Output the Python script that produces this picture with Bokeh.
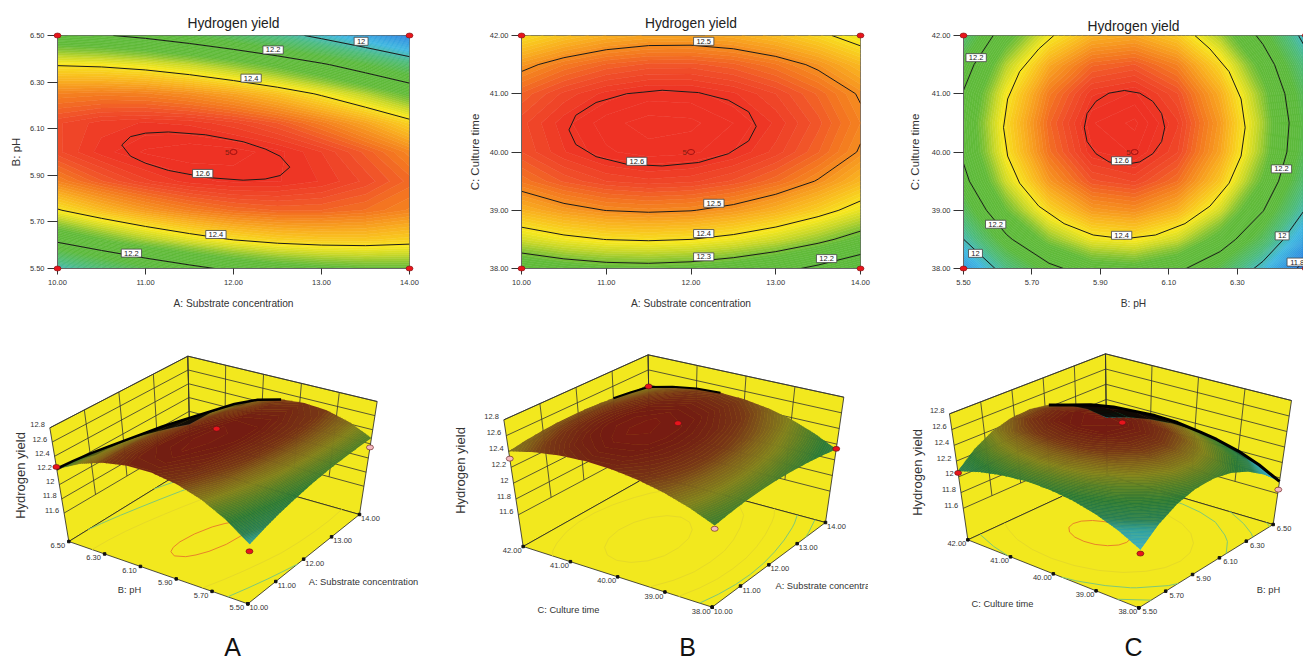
import numpy as np
from bokeh.core.properties import value
from bokeh.embed import file_html
from bokeh.layouts import column, row
from bokeh.models import FixedTicker, Label, NumeralTickFormatter, Range1d, Spacer
from bokeh.plotting import figure
from bokeh.resources import INLINE

FONT = "Liberation Sans"

# ---------- values ----------
substrate = [10.0, 10.5, 11.0, 11.5, 12.0, 12.5, 13.0, 13.5, 14.0]
ph = [5.5, 5.625, 5.75, 5.875, 6.0, 6.125, 6.25, 6.375, 6.5]
culture = [38.0, 38.5, 39.0, 39.5, 40.0, 40.5, 41.0, 41.5, 42.0]

# rows: second factor ascending; columns: first factor ascending
yield_a = [
    [11.994, 12.065, 12.126, 12.176, 12.218, 12.249, 12.269, 12.280, 12.282],
    [12.223, 12.283, 12.333, 12.372, 12.403, 12.423, 12.432, 12.433, 12.423],
    [12.395, 12.445, 12.484, 12.513, 12.532, 12.541, 12.540, 12.529, 12.508],
    [12.510, 12.549, 12.577, 12.595, 12.603, 12.601, 12.589, 12.567, 12.536],
    [12.567, 12.595, 12.612, 12.619, 12.616, 12.604, 12.580, 12.547, 12.505],
    [12.568, 12.585, 12.591, 12.587, 12.573, 12.550, 12.515, 12.472, 12.418],
    [12.511, 12.516, 12.512, 12.497, 12.472, 12.438, 12.392, 12.338, 12.274],
    [12.396, 12.390, 12.375, 12.349, 12.313, 12.268, 12.212, 12.146, 12.071],
    [12.224, 12.207, 12.181, 12.144, 12.097, 12.041, 11.974, 11.898, 11.811],
]
yield_b = [
    [12.233, 12.258, 12.273, 12.277, 12.270, 12.251, 12.223, 12.184, 12.135],
    [12.359, 12.385, 12.401, 12.406, 12.400, 12.383, 12.356, 12.318, 12.270],
    [12.457, 12.484, 12.501, 12.507, 12.502, 12.486, 12.460, 12.423, 12.376],
    [12.523, 12.552, 12.570, 12.577, 12.573, 12.558, 12.533, 12.497, 12.451],
    [12.560, 12.589, 12.608, 12.616, 12.613, 12.600, 12.576, 12.541, 12.496],
    [12.566, 12.596, 12.616, 12.625, 12.623, 12.610, 12.588, 12.554, 12.510],
    [12.542, 12.573, 12.594, 12.605, 12.604, 12.592, 12.570, 12.538, 12.495],
    [12.487, 12.520, 12.542, 12.553, 12.554, 12.543, 12.522, 12.491, 12.449],
    [12.403, 12.436, 12.460, 12.472, 12.473, 12.464, 12.444, 12.413, 12.373],
]
yield_c = [
    [11.865, 12.048, 12.176, 12.247, 12.261, 12.220, 12.122, 11.967, 11.756],
    [11.999, 12.182, 12.310, 12.381, 12.395, 12.354, 12.256, 12.101, 11.890],
    [12.102, 12.285, 12.413, 12.484, 12.498, 12.457, 12.359, 12.204, 11.993],
    [12.175, 12.358, 12.486, 12.557, 12.571, 12.530, 12.432, 12.277, 12.066],
    [12.216, 12.399, 12.527, 12.598, 12.612, 12.571, 12.473, 12.318, 12.107],
    [12.227, 12.410, 12.538, 12.609, 12.623, 12.582, 12.484, 12.329, 12.118],
    [12.206, 12.389, 12.517, 12.588, 12.602, 12.561, 12.463, 12.308, 12.097],
    [12.155, 12.338, 12.466, 12.537, 12.551, 12.510, 12.412, 12.257, 12.046],
    [12.073, 12.256, 12.384, 12.455, 12.469, 12.428, 12.330, 12.175, 11.964],
]

levels_a = [12.0, 12.2, 12.4]
levels_b = [12.2, 12.3, 12.4, 12.5]
levels_c = [11.8, 12.0, 12.2]

# contours
ring_a_x = [10.73, 10.83, 11.00, 11.26, 11.68, 12.11, 12.36, 12.53, 12.64, 12.53, 12.36, 12.11, 11.68, 11.26, 11.00, 10.83, 10.73]
ring_a_y = [6.03, 6.066, 6.081, 6.086, 6.074, 6.044, 6.013, 5.982, 5.935, 5.899, 5.884, 5.879, 5.891, 5.921, 5.952, 5.982, 6.03]
ring_b_x = [12.77, 12.68, 12.44, 12.09, 11.66, 11.24, 10.88, 10.64, 10.56, 10.64, 10.88, 11.24, 11.66, 12.09, 12.44, 12.68, 12.77]
ring_b_y = [40.44, 40.69, 40.89, 41.02, 41.06, 41.0, 40.85, 40.63, 40.38, 40.13, 39.92, 39.79, 39.76, 39.82, 39.97, 40.19, 40.44]
ring_c_x = [6.088, 6.079, 6.053, 6.015, 5.97, 5.925, 5.887, 5.861, 5.853, 5.861, 5.887, 5.925, 5.97, 6.015, 6.053, 6.079, 6.088]
ring_c_y = [40.42, 40.66, 40.87, 41.01, 41.056, 41.01, 40.87, 40.66, 40.42, 40.18, 39.97, 39.83, 39.784, 39.83, 39.97, 40.18, 40.42]
arc_c_x = [6.176, 6.220, 6.276, 6.311, 6.323, 6.311, 6.276, 6.220, 6.147, 6.061, 5.970, 5.879, 5.794, 5.720, 5.664, 5.629, 5.617, 5.629, 5.664, 5.720, 5.764]
arc_c_y = [42.0, 41.77, 41.38, 40.91, 40.42, 39.93, 39.465, 39.07, 38.77, 38.575, 38.51, 38.575, 38.77, 39.07, 39.465, 39.93, 40.42, 40.91, 41.38, 41.77, 42.0]

tags_a = (["12", "12.2", "12.4", "12.6", "12.4", "12.2"],
          [13.45, 12.45, 12.2, 11.65, 11.8, 10.84],
          [6.475, 6.438, 6.317, 5.908, 5.646, 5.566])
tags_b = (["12.5", "12.6", "12.5", "12.4", "12.3", "12.2"],
          [12.15, 11.36, 12.27, 12.15, 12.15, 13.6],
          [41.9, 39.84, 39.12, 38.6, 38.2, 38.17])
tags_c = (["12.2", "12.2", "12", "12.6", "12.4", "12.2", "12", "11.8"],
          [5.537, 5.594, 5.535, 5.962, 5.962, 6.429, 6.431, 6.475],
          [41.62, 38.76, 38.26, 39.85, 38.57, 39.71, 38.56, 38.11])

z_ticks = [11.6, 11.8, 12.0, 12.2, 12.4, 12.6, 12.8]
z_tick_labels = ["11.6", "11.8", "12", "12.2", "12.4", "12.6", "12.8"]
substrate_ticks = [10.0, 11.0, 12.0, 13.0, 14.0]
ph_ticks = [5.5, 5.7, 5.9, 6.1, 6.3, 6.5]
culture_ticks = [38.0, 39.0, 40.0, 41.0, 42.0]

# design points on the 3D views: first factor, second factor, yield, colour
points_a = ([10.0, 14.0, 10.0, 12.0], [6.5, 5.5, 5.5, 6.0], [12.25, 12.15, 11.90, 12.64],
            ["#E8141C", "#F4B8C0", "#E8141C", "#E8141C"])
points_b = ([10.0, 14.0, 14.0, 10.0, 12.0], [42.0, 42.0, 38.0, 38.0, 40.0],
            [12.31, 12.38, 12.14, 12.19, 12.67],
            ["#F4B8C0", "#E8141C", "#E8141C", "#F4B8C0", "#E8141C"])
points_c = ([5.5, 6.5, 5.5, 6.0], [42.0, 38.0, 38.0, 40.0], [12.05, 11.65, 11.82, 12.63],
            ["#E8141C", "#F4B8C0", "#E8141C", "#E8141C"])

# ---------- colours ----------
FLAT_Z = [11.70, 11.80, 11.95, 12.05, 12.15, 12.28, 12.31, 12.35, 12.39, 12.46, 12.52, 12.56, 12.60]
FLAT_C = ["#1F5FD0", "#2A80E0", "#3FB8E0", "#4CBB80", "#5CBA3C", "#62BB3A",
          "#86C434", "#C8D82A", "#F8E81E", "#F9B020", "#F47A20", "#F0502A", "#EE3224"]
MESH_Z = [11.70, 11.85, 12.00, 12.08, 12.20, 12.30, 12.38, 12.45, 12.52, 12.60, 12.68]
MESH_C = ["#2F9FD0", "#3FB0C8", "#2FA0A0", "#2A7F55", "#2C7A38", "#567F28",
          "#80801E", "#80621C", "#773616", "#731C12", "#8A1A10"]
FILL_LEVELS = np.round(np.arange(11.6, 12.71, 0.01), 2)


def ramp(levels, stops, colors):
    rgb = np.array([[int(c[i:i + 2], 16) for i in (1, 3, 5)] for c in colors], float)
    out = []
    for lv in levels:
        out.append("#%02x%02x%02x" % tuple(int(round(np.interp(lv, stops, rgb[:, k]))) for k in range(3)))
    return out


def ramp_fills(stops, colors):
    mids = (FILL_LEVELS[:-1] + FILL_LEVELS[1:]) / 2
    return ramp(mids, stops, colors), ramp(FILL_LEVELS, stops, colors)


# ---------- contour panels ----------
def flat_panel(xs, ys, zs, levels, traces, tags, xticks, yticks, xlabel, ylabel, width, height,
               left, right, top, bottom, x_end, standoff, ylab_off, points_x, points_y):
    p = figure(width=width, height=height, output_backend="svg", toolbar_location=None,
               x_range=Range1d(xs[0], x_end), y_range=Range1d(ys[0], ys[-1]),
               min_border_left=left, min_border_right=right, min_border_top=top, min_border_bottom=bottom,
               title="Hydrogen yield")
    p.title.align = "center"
    p.title.text_font = FONT
    p.title.text_font_size = "13.8px"
    p.title.text_font_style = "normal"
    p.title.text_color = "#222222"
    p.title.standoff = standoff
    p.grid.visible = False
    p.outline_line_color = "#666666"
    p.background_fill_color = "#FFFFFF"
    fills, lines = ramp_fills(FLAT_Z, FLAT_C)
    z = np.array(zs)
    p.contour(np.array(xs), np.array(ys), z, list(FILL_LEVELS), fill_color=fills, line_color=lines, line_width=0.8)
    p.contour(np.array(xs), np.array(ys), z, levels, line_color="#1a1a1a", line_width=1.0)
    for tr_x, tr_y in traces:
        p.line(tr_x, tr_y, line_color="#1a1a1a", line_width=1.0)
    for ax, ticks, lab in ((p.xaxis[0], xticks, xlabel), (p.yaxis[0], yticks, ylabel)):
        ax.ticker = FixedTicker(ticks=ticks)
        ax.formatter = NumeralTickFormatter(format="0.00")
        ax.axis_label = lab
        ax.axis_label_text_font = FONT
        ax.axis_label_text_font_size = "10.2px"
        ax.axis_label_text_font_style = "normal"
        ax.axis_label_text_color = "#333333"
        ax.major_label_text_font = FONT
        ax.major_label_text_font_size = "7.5px"
        ax.major_label_text_color = "#333333"
        ax.major_tick_in = 0
        ax.minor_tick_line_color = None
        ax.axis_line_color = "#666666"
        ax.major_tick_line_color = "#333333"
    p.yaxis[0].axis_label_text_font_size = "11.5px"
    p.xaxis[0].major_tick_out = 6
    p.xaxis[0].major_label_standoff = 5
    p.xaxis[0].axis_label_standoff = 10
    p.yaxis[0].major_tick_out = 10
    p.yaxis[0].major_label_standoff = 3
    p.yaxis[0].axis_label_standoff = ylab_off
    names, tx, ty = tags
    p.rect(tx, ty, width=[7.5 + 3.2 * len(n) for n in names], height=8, width_units="screen", height_units="screen",
           fill_color="#FFFFFF", line_color="#444444", line_width=0.8)
    p.text(tx, ty, text=names, text_font=value(FONT), text_font_size="7.5px", text_align="center",
           text_baseline="middle", text_color="#222222")
    p.ellipse(points_x, points_y, width=7, height=5, width_units="screen", height_units="screen",
              fill_color="#E8141C", line_color="#7a1010", line_width=0.6, level="overlay")
    cx, cy = xs[4], ys[4]
    p.ellipse([cx], [cy], width=7, height=5, width_units="screen", height_units="screen",
              fill_color=None, line_color="#A01010", line_width=1)
    p.text([cx], [cy], text=["5"], x_offset=-4, text_font=value(FONT), text_font_size="8px", text_align="right",
           text_baseline="middle", text_color="#7a2010")
    return p


top_a = flat_panel(substrate, ph, yield_a, levels_a, [(ring_a_x, ring_a_y)], tags_a, substrate_ticks, ph_ticks,
                   "A: Substrate concentration", "B: pH", 465, 320, 57, 56, 33, 50, 14.0, 10, 5,
                   [10, 14, 10, 14], [6.5, 6.5, 5.5, 5.5])
top_b = flat_panel(substrate, culture, yield_b, levels_b, [(ring_b_x, ring_b_y)], tags_b, substrate_ticks, culture_ticks,
                   "A: Substrate concentration", "C: Culture time", 440, 320, 48, 45, 35, 52, 14.0, 10, 6,
                   [10, 14, 10, 14], [42, 42, 38, 38])
top_c = flat_panel(ph, culture, yield_c, levels_c, [(ring_c_x, ring_c_y), (arc_c_x, arc_c_y)], tags_c, ph_ticks[:-1], culture_ticks,
                   "B: pH", "C: Culture time", 398, 320, 54, 0, 35, 52, 6.4934, 3, 8,
                   [5.5, 6.5, 5.5, 6.5], [42, 42, 38, 38])
top_c.add_layout(Label(x=400, y=-14, x_units="screen", y_units="screen", text="6.50", text_font=FONT,
                       text_font_size="7.5px", text_align="center", text_baseline="middle", text_color="#333333"))


# ---------- 3D panels ----------
def shoelace(qx, qy):
    return 0.5 * ((qx[0] * qy[1] - qx[1] * qy[0]) + (qx[1] * qy[2] - qx[2] * qy[1])
                  + (qx[2] * qy[3] - qx[3] * qy[2]) + (qx[3] * qy[0] - qx[0] * qy[3]))


def upper_hull(px, py):
    pts = sorted(zip(px.ravel().tolist(), py.ravel().tolist()))
    hull = []
    for pt in pts:
        while len(hull) >= 2:
            (x1, y1), (x2, y2) = hull[-2], hull[-1]
            if (x2 - x1) * (pt[1] - y1) - (y2 - y1) * (pt[0] - x1) >= 0:
                hull.pop()
            else:
                break
        hull.append(pt)
    return hull


def mesh_panel(left_px, right_px, xs, ys, zs, levels, level_colors, traces, corners, left_ticks, right_ticks,
               titles, points, letter, letter_x, edge_span, edge_width):
    p = figure(width=right_px - left_px, height=338, output_backend="svg", toolbar_location=None,
               x_range=Range1d(left_px, right_px), y_range=Range1d(658, 320),
               x_axis_location=None, y_axis_location=None, min_border=0)
    p.grid.visible = False
    p.outline_line_color = None

    F, R, L, B, TF, TR, TL, TB = [np.array(c, float) for c in corners]
    zlo, zhi = 11.2, 12.8

    def proj(x, y, z):
        a = (np.asarray(x, float) - xs[0]) / (xs[-1] - xs[0])
        b = (np.asarray(y, float) - ys[0]) / (ys[-1] - ys[0])
        t = (np.asarray(z, float) - zlo) / (zhi - zlo)
        out = []
        for k in (0, 1):
            low = F[k] * (1 - a) * (1 - b) + R[k] * a * (1 - b) + L[k] * (1 - a) * b + B[k] * a * b
            high = TF[k] * (1 - a) * (1 - b) + TR[k] * a * (1 - b) + TL[k] * (1 - a) * b + TB[k] * a * b
            out.append(low * (1 - t) + high * t)
        return out

    wall = "#F2E81E"
    p.patches([[L[0], B[0], TB[0], TL[0]], [B[0], R[0], TR[0], TB[0]], [F[0], R[0], B[0], L[0]]],
              [[L[1], B[1], TB[1], TL[1]], [B[1], R[1], TR[1], TB[1]], [F[1], R[1], B[1], L[1]]],
              fill_color=wall, line_color="#222222", line_width=0.8)

    # wall grid
    gx, gy = [], []
    for z in z_ticks:
        px, py = proj([xs[0], xs[-1], xs[-1]], [ys[-1], ys[-1], ys[0]], [z] * 3)
        gx.append(list(px)); gy.append(list(py))
    for x in right_ticks[1:-1]:
        px, py = proj([x, x], [ys[-1], ys[-1]], [z_ticks[0], zhi])
        gx.append(list(px)); gy.append(list(py))
    for y in left_ticks[1:-1]:
        px, py = proj([xs[-1], xs[-1]], [y, y], [z_ticks[0], zhi])
        gx.append(list(px)); gy.append(list(py))
    px, py = proj([xs[-1], xs[-1]], [ys[-1], ys[-1]], [zlo, zhi])
    gx.append(list(px)); gy.append(list(py))
    p.multi_line(gx, gy, line_color="#333333", line_width=0.8)

    # floor axes and contours
    X, Y = np.meshgrid(xs, ys)
    Z = np.array(zs)
    fx, fy = proj(X, Y, np.full(Z.shape, zlo))
    p.contour(fx, fy, Z, levels, line_color=level_colors, line_width=1)
    for tr_x, tr_y, tr_c in traces:
        rx, ry = proj(tr_x, tr_y, [zlo] * len(tr_x))
        p.line(rx, ry, line_color=tr_c, line_width=1)

    tx, ty = proj([xs[0]] * len(left_ticks), left_ticks, [zlo] * len(left_ticks))
    p.scatter(tx, ty, size=2.5, marker="square", color="#111111")
    p.text(tx, ty, text=["%.2f" % v for v in left_ticks], x_offset=-11, y_offset=4, text_font=value(FONT),
           text_font_size="7.5px", text_align="center", text_baseline="middle", text_color="#333333")
    tx, ty = proj(right_ticks, [ys[0]] * len(right_ticks), [zlo] * len(right_ticks))
    p.scatter(tx, ty, size=2.5, marker="square", color="#111111")
    p.text(tx, ty, text=["%.2f" % v for v in right_ticks], x_offset=11, y_offset=4, text_font=value(FONT),
           text_font_size="7.5px", text_align="center", text_baseline="middle", text_color="#333333")

    tx, ty = proj([xs[0]] * len(z_ticks), [ys[-1]] * len(z_ticks), z_ticks)
    p.text(tx, ty, text=z_tick_labels, x_offset=-5, y_offset=-3, text_font=value(FONT), text_font_size="7.5px",
           text_align="right", text_baseline="middle", text_color="#333333")

    # surface
    sx, sy = proj(X, Y, Z)
    fills, lines = ramp_fills(MESH_Z, MESH_C)
    p.contour(sx, sy, Z, list(FILL_LEVELS), fill_color=fills, line_color=lines, line_width=0.8)

    # mesh lines crowd together where the surface is seen edge-on: darken those cells
    qx, qy, qa = [], [], []
    for i in range(Z.shape[0] - 1):
        for j in range(Z.shape[1] - 1):
            ix = [i, i, i + 1, i + 1]
            jx = [j, j + 1, j + 1, j]
            cx = [sx[a, b] for a, b in zip(ix, jx)]
            cy = [sy[a, b] for a, b in zip(ix, jx)]
            area = shoelace(cx, cy) / shoelace([fx[a, b] for a, b in zip(ix, jx)], [fy[a, b] for a, b in zip(ix, jx)])
            alpha = float(np.clip((0.28 - area) / 0.25, 0, 1)) * 0.85
            if alpha > 0:
                qx.append(cx); qy.append(cy); qa.append(alpha)
    if qx:
        p.patches(qx, qy, fill_color="#000000", fill_alpha=qa, line_color=None)
    hull = [pt for pt in upper_hull(sx, -sy) if edge_span[0] <= pt[0] <= edge_span[1]]
    p.line([pt[0] for pt in hull], [-pt[1] for pt in hull], line_color="#000000", line_width=edge_width)

    # design points
    dx, dy, dz, dc = points
    ox, oy = proj(dx, dy, dz)
    p.ellipse(ox, oy, width=7, height=5, width_units="screen", height_units="screen", fill_color=dc,
              line_color="#5a1010", line_width=0.6)

    for text, x, y, align, angle in titles:
        p.text([x], [y], text=[text], angle=angle, text_font=value(FONT), text_font_size="9.3px" if angle == 0 else "13px",
               text_align=align, text_baseline="middle", text_color="#333333")
    p.text([letter_x], [646], text=[letter], text_font=value(FONT), text_font_size="25px", text_align="center",
           text_baseline="middle", text_color="#111111")
    return p


def zoomed(ox, pts):
    return [(ox + a / 3, 340 + b / 3) for a, b in pts]


GREEN, ORANGE, FAINT = "#7FC878", "#E8832A", "#E6DA28"
ang = np.pi / 2
low_a = mesh_panel(0, 435, substrate, ph, yield_a, levels_a, [GREEN, GREEN, FAINT], [(ring_a_x, ring_a_y, ORANGE)],
                   zoomed(0, [(742, 790), (1077, 522), (205, 603), (570, 378),
                              (753, 430), (1130, 183), (148, 262), (562, 47)]),
                   ph_ticks, substrate_ticks,
                   [("B: pH", 129, 589, "center", 0), ("A: Substrate concentration", 363, 581, "center", 0),
                    ("Hydrogen yield", 20, 475, "center", ang)], points_a, "A", 232, (50, 300), 2.5)
low_b = mesh_panel(435, 868, substrate, culture, yield_b, levels_b, [GREEN, GREEN, FAINT, FAINT],
                   [(ring_b_x, ring_b_y, FAINT)],
                   zoomed(440, [(815, 800), (1155, 546), (248, 618), (628, 404),
                                (827, 420), (1210, 170), (190, 238), (623, 43)]),
                   culture_ticks, substrate_ticks,
                   [("C: Culture time", 568, 609, "center", 0), ("A: Substrate concentration", 775, 585, "left", 0),
                    ("Hydrogen yield", 460, 470, "center", ang)], points_b, "B", 687, (600, 720), 2.0)
low_c = mesh_panel(885, 1303, ph, culture, yield_c, levels_c, [GREEN, GREEN, GREEN],
                   [(ring_c_x, ring_c_y, ORANGE), (arc_c_x, arc_c_y, FAINT)],
                   zoomed(890, [(745, 802), (1148, 552), (232, 598), (650, 405),
                                (757, 382), (1203, 180), (177, 220), (645, 40)]),
                   culture_ticks, ph_ticks,
                   [("C: Culture time", 1002, 603, "center", 0), ("B: pH", 1268, 589, "center", 0),
                    ("Hydrogen yield", 917, 472, "center", ang)], points_c, "C", 1133, (1040, 1290), 3.0)

page = column(row(top_a, top_b, top_c, spacing=0),
              row(low_a, low_b, Spacer(width=17, height=338), low_c, spacing=0), spacing=0)
open("out.html", "w").write(file_html(page, INLINE))
